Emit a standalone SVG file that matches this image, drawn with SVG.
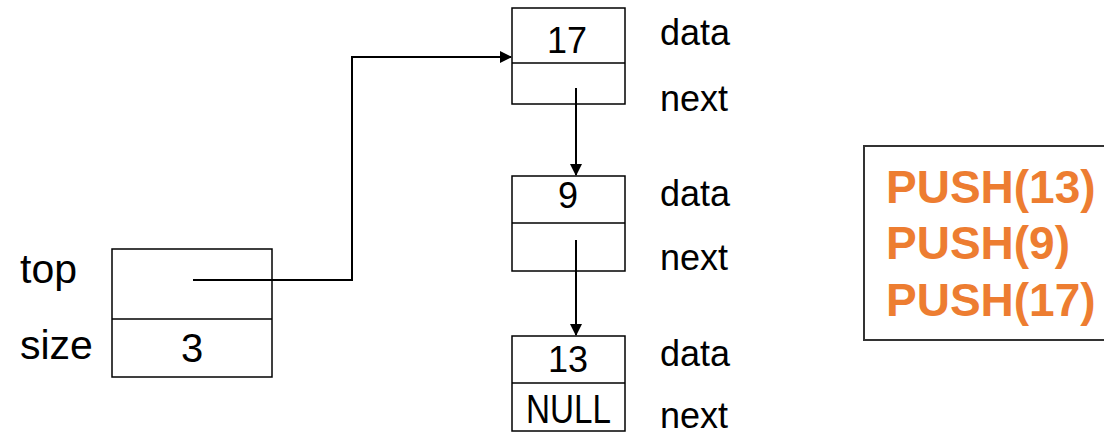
<svg xmlns="http://www.w3.org/2000/svg" width="1104" height="435" viewBox="0 0 1104 435">
<style>
.box{fill:#fff;stroke:#000;stroke-width:1.5}
.ln{fill:none;stroke:#000;stroke-width:2}
.t{font-family:"Liberation Sans",Arial,sans-serif;font-size:36px;fill:#000}
.lbl{font-size:41px}
.big{font-size:40px}
.c{text-anchor:middle}
.p{font-family:"Liberation Sans",Arial,sans-serif;font-size:46px;font-weight:bold;fill:#ED7D31}
</style>
<defs>
<marker id="ah" markerWidth="12" markerHeight="12" refX="11" refY="6" orient="auto" markerUnits="userSpaceOnUse" viewBox="0 0 12 12">
<path d="M0,0 L12,6 L0,12 z" fill="#000"/>
</marker>
</defs>
<rect width="1104" height="435" fill="#fff"/>
<g id="stack">
<rect class="box" x="112" y="249" width="160" height="128"/>
<line class="box" x1="112" y1="319" x2="272" y2="319"/>
<text class="t lbl" x="20" y="283">top</text>
<text class="t lbl" x="20" y="359">size</text>
<text class="t big c" x="192" y="362">3</text>
</g>
<g id="node17">
<rect class="box" x="512" y="8" width="113" height="96"/>
<line class="box" x1="512" y1="63" x2="625" y2="63"/>
<text class="t c" x="567" y="53">17</text>
<text class="t" x="660" y="45">data</text>
<text class="t" x="660" y="111">next</text>
</g>
<g id="node9">
<rect class="box" x="512" y="176" width="113" height="95"/>
<line class="box" x1="512" y1="223" x2="625" y2="223"/>
<text class="t c" x="568" y="208">9</text>
<text class="t" x="660" y="206">data</text>
<text class="t" x="660" y="270">next</text>
</g>
<g id="node13">
<rect class="box" x="512" y="336" width="113" height="95"/>
<line class="box" x1="512" y1="383" x2="625" y2="383"/>
<text class="t c" x="568" y="372">13</text>
<text class="t big" x="526" y="423" textLength="85" lengthAdjust="spacingAndGlyphs">NULL</text>
<text class="t" x="660" y="366">data</text>
<text class="t" x="660" y="428">next</text>
</g>
<g id="ops">
<rect x="864" y="146" width="250" height="194" fill="#fff" stroke="#333" stroke-width="2"/>
<text class="p" x="886" y="203">PUSH(13)</text>
<text class="p" x="886" y="259">PUSH(9)</text>
<text class="p" x="886" y="316">PUSH(17)</text>
</g>
<g id="connectors">
<polyline class="ln" points="193,280 352,280 352,57 511,57" marker-end="url(#ah)"/>
<line class="ln" x1="576" y1="88" x2="576" y2="175" marker-end="url(#ah)"/>
<line class="ln" x1="576" y1="240" x2="576" y2="335" marker-end="url(#ah)"/>
</g>
</svg>
